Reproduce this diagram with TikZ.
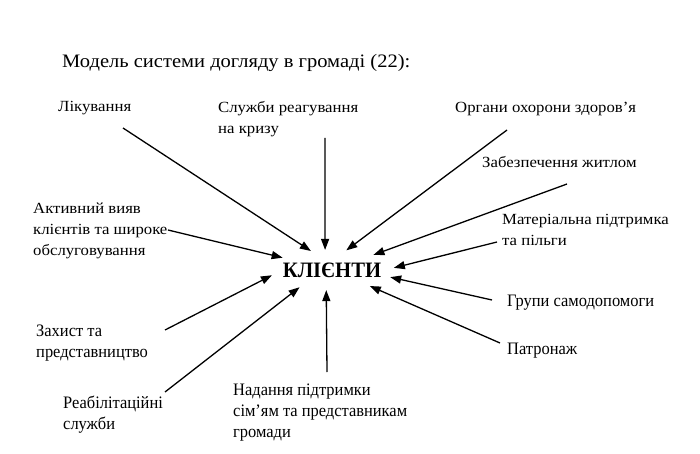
\documentclass[tikz,border=0pt]{standalone}
\usepackage{fontspec}
\setmainfont{Liberation Serif}
\newfontfamily\widefont{Liberation Serif}[FakeStretch=1.08]
\newfontfamily\condfont{Liberation Serif}[FakeStretch=0.94]
\usetikzlibrary{arrows.meta,shapes.geometric}
\tikzset{
  lbl/.style={anchor=base west, inner sep=0pt, align=left, font=\widefont\fontsize{15.5}{21}\selectfont},
  clbl/.style={lbl, font=\condfont\fontsize{17.5}{21}\selectfont},
  arr/.style={line width=1.3pt, -{Triangle[length=11pt,width=8pt]}},
}
\begin{document}
\begin{tikzpicture}[x=1pt,y=-1pt]
\fill[white] (0,0) rectangle (700,454);
\useasboundingbox (0,0) rectangle (700,454);

\node[lbl, font=\widefont\fontsize{19}{21}\selectfont] (title) at (62,68) {Модель системи догляду в громаді (22):};

\node[inner sep=0pt, font=\condfont\bfseries\fontsize{22}{24}\selectfont] (cl) at (332,270) {КЛІЄНТИ};
\node[ellipse, minimum width=124pt, minimum height=40pt, inner sep=0pt] (ring) at (332,270) {};

% multi-line labels: position is the baseline of the last line
\node[lbl] (l1) at (58,112) {Лікування};
\node[lbl] (l2) at (218,134) {Служби реагування\\на кризу};
\node[lbl] (l3) at (455,113) {Органи охорони здоров’я};
\node[lbl] (l4) at (482,168) {Забезпечення житлом};
\node[lbl] (l5) at (502,245) {Матеріальна підтримка\\та пільги};
\node[lbl] (l6) at (33,255) {Активний вияв\\клієнтів та широке\\обслуговування};
\node[clbl] (l7) at (507,306) {Групи самодопомоги};
\node[clbl] (l8) at (36,357) {Захист та\\представництво};
\node[clbl] (l9) at (507,354) {Патронаж};
\node[clbl] (l10) at (233,437) {Надання підтримки\\сім’ям та представникам\\громади};
\node[clbl] (l11) at (63,429) {Реабілітаційні\\служби};

\coordinate (t1) at (123,128);
\coordinate (t2) at (325,138);
\coordinate (t3) at (507,130);
\coordinate (t4) at (567,184);
\coordinate (t5) at (497,242);
\coordinate (t6) at (168,230);
\coordinate (t7) at (492,300);
\coordinate (t8) at (165,330);
\coordinate (t9) at (500,343);
\coordinate (t10) at (327,372);
\coordinate (t11) at (165,392);

\draw[arr] (t1) -- (ring.138);
\draw[arr] (t2) -- (ring.109);
\draw[arr] (t3) -- (ring.54);
\draw[arr] (t4) -- (ring.20);
\draw[arr] (t5) -- (ring.2);
\draw[arr] (t6) -- (ring.166);
\draw[arr] (t7) -- (ring.-7);
\draw[arr] (t8) -- (ring.-175);
\draw[arr] (t9) -- (ring.-23);
\draw[arr] (t10) -- (ring.-106);
\draw[arr] (t11) -- (ring.-152);
\end{tikzpicture}
\end{document}
